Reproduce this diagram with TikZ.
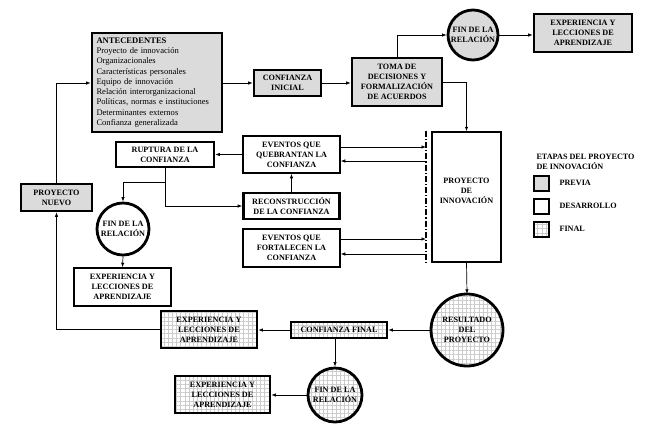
\documentclass[tikz,border=0pt]{standalone}
\usepackage{fontspec}
\setmainfont{Liberation Serif}
\usetikzlibrary{arrows.meta,patterns.meta,calc}
\begin{document}
\begin{tikzpicture}[x=1bp,y=-1bp,
  lbl/.style={font=\fontsize{8.2}{10}\selectfont\bfseries, align=center},
  box/.style={rectangle, draw, inner sep=0pt, lbl},
  thinb/.style={box, line width=1.5bp},
  thickb/.style={box, line width=2.6bp},
  circ/.style={circle, draw, line width=2.8bp, inner sep=0pt, lbl},
  previa/.style={fill=gray!28},
  finalf/.style={preaction={fill=white}, pattern={Hatch[angle=0,distance=4.2bp,line width=0.3bp]}, pattern color=gray!40},
  arr/.style={-{Latex[length=4.5bp,width=3.4bp]}, line width=0.7bp},
  dd/.style={line width=1.2bp, dash pattern=on 6bp off 2bp on 1.2bp off 2bp}
]
\useasboundingbox (0,0) rectangle (650,426);

% previa stage
\node[thickb, previa, minimum width=130bp, minimum height=99bp, align=left, text width=121bp, font=\fontsize{8.6}{10.25}\selectfont] (ant) at (157,82.5)
  {\textbf{ANTECEDENTES}\\Proyecto de innovación\\Organizacionales\\Características personales\\Equipo de innovación\\Relación interorganizacional\\Políticas, normas e instituciones\\Determinantes externos\\Confianza generalizada};
\node[thickb, previa, minimum width=67bp, minimum height=26bp] (ci) at (287.5,83) {CONFIANZA\\INICIAL};
\node[thickb, previa, minimum width=90bp, minimum height=48bp] (toma) at (397,82) {TOMA DE\\DECISIONES Y\\FORMALIZACIÓN\\DE ACUERDOS};
\node[circ, previa, minimum size=50bp] (fin1) at (473,35) {FIN DE LA\\RELACIÓN};
\node[thickb, previa, minimum width=98bp, minimum height=38bp] (exp1) at (583,33) {EXPERIENCIA Y\\LECCIONES DE\\APRENDIZAJE};
\node[thickb, previa, minimum width=71bp, minimum height=27bp] (pn) at (56.5,197.5) {PROYECTO\\NUEVO};

% desarrollo stage
\node[thinb, minimum width=69bp, minimum height=130bp] (pi) at (466.5,197) {};
\node[lbl] (pit) at (466.5,191) {PROYECTO\\DE\\INNOVACIÓN};
\node[thinb, minimum width=97bp, minimum height=37bp] (evq) at (291.5,154.5) {EVENTOS QUE\\QUEBRANTAN LA\\CONFIANZA};
\node[thickb, minimum width=98bp, minimum height=25bp] (rup) at (165,154.5) {RUPTURA DE LA\\CONFIANZA};
\node[thickb, minimum width=96bp, minimum height=26bp] (rec) at (291.5,206) {RECONSTRUCCIÓN\\DE LA CONFIANZA};
\node[thinb, minimum width=97bp, minimum height=38bp] (evf) at (291.5,248) {EVENTOS QUE\\FORTALECEN LA\\CONFIANZA};
\node[circ, fill=white, minimum size=52bp] (fin2) at (123,229) {FIN DE LA\\RELACIÓN};
\node[thinb, minimum width=97bp, minimum height=38bp] (exp2) at (122.5,287) {EXPERIENCIA Y\\LECCIONES DE\\APRENDIZAJE};

% final stage
\node[circ, finalf, minimum size=72bp] (res) at (467,330) {RESULTADO\\DEL\\PROYECTO};
\node[thickb, finalf, minimum width=96bp, minimum height=16bp] (cf) at (339,330) {CONFIANZA FINAL};
\node[thickb, finalf, minimum width=96bp, minimum height=37bp] (exp3) at (209,329.5) {EXPERIENCIA Y\\LECCIONES DE\\APRENDIZAJE};
\node[circ, finalf, minimum size=54bp] (fin3) at (335,395) {FIN DE LA\\RELACIÓN};
\node[thickb, finalf, minimum width=95bp, minimum height=37bp] (exp4) at (222.5,394.5) {EXPERIENCIA Y\\LECCIONES DE\\APRENDIZAJE};

% dash-dot boundary
\coordinate (dl1) at (426,131);
\coordinate (dl2) at (426,265);
\draw[dd] (dl1) -- (dl2);
\coordinate (q1) at (426,147);
\coordinate (q2) at (426,161);
\coordinate (f1) at (426,239);
\coordinate (f2) at (426,254);
\coordinate (j1) at (165,182);

% connectors
\draw[arr] (ant.east |- ci.west) -- (ci.west);
\draw[arr] (ci.east) -- (toma.west |- ci.east);
\draw[arr] (toma.north) |- (fin1.west);
\draw[arr] (fin1.east) -- (exp1.west |- fin1.east);
\draw[arr] (toma.east) -| (pi.north);
\draw[arr] (evq.east |- q1) -- (q1);
\draw[arr] (q2) -- (evq.east |- q2);
\draw[arr] (evf.east |- f1) -- (f1);
\draw[arr] (f2) -- (evf.east |- f2);
\draw[arr] (evq.west) -- (rup.east);
\draw[arr] (rec.north) -- (evq.south);
\draw[arr] (rup.south) -- (j1) -| (fin2.north);
\draw[arr] (j1) |- (rec.west);
\draw[arr] (fin2.south) -- (exp2.north);
\draw[arr] (pn.north) |- (ant.west |- ci.west);
\draw[arr] (exp3.west) -| (pn.south);
\draw[arr] (pi.south) -- (res.north);
\draw[arr] (res.west) -- (cf.east);
\draw[arr] (cf.west) -- (exp3.east |- cf.west);
\draw[arr] (cf.south -| fin3.north) -- (fin3.north);
\draw[arr] (fin3.west) -- (exp4.east |- fin3.west);

% legend
\node[lbl, align=left, anchor=west] (lt) at (533,162) {ETAPAS DEL PROYECTO\\DE INNOVACIÓN};
\node[rectangle, draw, line width=2bp, previa, minimum size=15bp, inner sep=0pt] (s1) at (541.5,183) {};
\node[rectangle, draw, line width=2bp, fill=white, minimum size=15bp, inner sep=0pt] (s2) at (541.5,206) {};
\node[rectangle, draw, line width=2bp, finalf, minimum size=15bp, inner sep=0pt] (s3) at (541.5,229) {};
\node[lbl, anchor=west] (l1) at (556,183) {PREVIA};
\node[lbl, anchor=west] (l2) at (556,206) {DESARROLLO};
\node[lbl, anchor=west] (l3) at (556,229) {FINAL};
\end{tikzpicture}
\end{document}
